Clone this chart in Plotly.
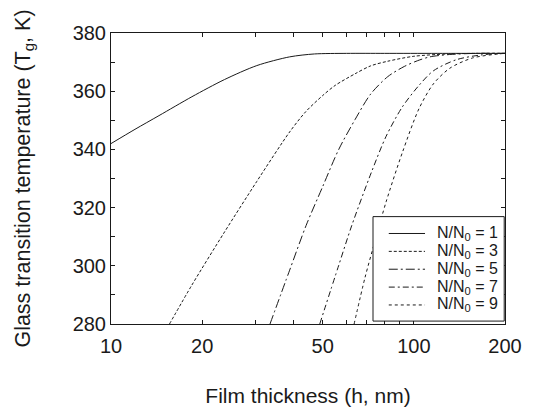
import plotly.graph_objects as go

# Film thickness (nm) and glass transition temperature (K) for each N/N0 ratio
h_n1 = [10, 12, 14.4, 18.5, 23.7, 30.3, 38.9, 47, 60, 80, 120, 200]
tg_n1 = [342, 346.9, 351.6, 358.1, 364, 368.8, 371.8, 372.8, 373, 373, 373, 373]

h_n3 = [15.6, 18.5, 23.7, 30.3, 38.9, 44, 50, 55, 64, 72, 82, 100, 130, 160, 200]
tg_n3 = [280, 293.4, 311.6, 329, 346, 353, 358.5, 362, 366, 368.7, 370.3, 372, 372.8, 373, 373]

h_n5 = [33.5, 38.9, 44.1, 49.9, 56.5, 64, 72, 82, 93, 103, 113, 131, 160, 200]
tg_n5 = [280, 298.5, 313.9, 327, 340, 350.3, 359, 365, 368.5, 370.5, 371.8, 372.6, 373, 373]

h_n7 = [48.9, 56.5, 62.4, 72.4, 81, 91.5, 104, 116, 138, 168, 200]
tg_n7 = [280, 300.2, 313.9, 332.1, 344.5, 354.5, 362, 367, 370.8, 372.5, 373]

h_n9 = [63.5, 69, 74.2, 81, 91.7, 104, 116, 131.5, 156, 190, 200]
tg_n9 = [280, 296, 308, 322, 339, 354, 362.5, 367.9, 371.4, 372.8, 373]

ratios = ["1", "3", "5", "7", "9"]
series_h = [h_n1, h_n3, h_n5, h_n7, h_n9]
series_tg = [tg_n1, tg_n3, tg_n5, tg_n7, tg_n9]
dashes = ["solid", "3px,2px", "9px,3px,2px,3px", "6px,3px,2px,3px", "3px,3px"]

x_ticks = [10, 20, 50, 100, 200]
x_minor = [30, 40, 60, 70, 80, 90]

FONT = "Liberation Sans, Arial, Helvetica, sans-serif"
INK = "#1a1a1a"

fig = go.Figure()
for r, hx, ty, d in zip(ratios, series_h, series_tg, dashes):
    fig.add_trace(go.Scatter(
        x=hx, y=ty, mode="lines", name=f"N/N<sub>0</sub> = {r}",
        line=dict(color=INK, width=1, dash=d, shape="spline", smoothing=0.8),
        showlegend=False,
    ))

# Compact boxed key in the lower-right corner of the plotting area
key_x0, key_x1, key_y0, key_y1 = 0.665, 0.998, 0.010, 0.369
row_top, row_step = 0.311, 0.0614
sample_x0, sample_x1, label_x = 0.705, 0.797, 0.822

shapes = [dict(type="rect", xref="paper", yref="paper",
               x0=key_x0, x1=key_x1, y0=key_y0, y1=key_y1,
               line=dict(color=INK, width=1), fillcolor="white", layer="above")]
annotations = []
for i, (r, d) in enumerate(zip(ratios, dashes)):
    yy = row_top - i * row_step
    shapes.append(dict(type="line", xref="paper", yref="paper",
                       x0=sample_x0, x1=sample_x1, y0=yy, y1=yy,
                       line=dict(color=INK, width=1, dash=d), layer="above"))
    annotations.append(dict(xref="paper", yref="paper", x=label_x, y=yy,
                            xanchor="left", yanchor="middle", showarrow=False,
                            text=f"N/N<sub>0</sub> = {r}",
                            font=dict(family=FONT, size=16, color=INK)))

axis_common = dict(
    showline=True, linecolor=INK, linewidth=1, mirror="ticks",
    ticks="inside", ticklen=4, tickwidth=1, tickcolor=INK,
    showgrid=False, zeroline=False,
    tickfont=dict(family=FONT, size=20, color=INK),
)

fig.update_layout(
    width=534, height=416,
    margin=dict(l=111, r=20, t=33, b=90),
    paper_bgcolor="white", plot_bgcolor="white",
    font=dict(family=FONT, color=INK),
    shapes=shapes, annotations=annotations,
    xaxis=dict(
        type="log", range=[1, 2.30103],
        tickmode="array", tickvals=x_ticks, ticktext=[str(v) for v in x_ticks],
        ticklabelstandoff=4,
        minor=dict(tickmode="array", tickvals=x_minor, ticks="inside",
                   ticklen=4, tickcolor=INK),
        title=dict(text="Film thickness (h, nm)",
                   font=dict(family=FONT, size=21, color=INK), standoff=32),
        **axis_common,
    ),
    yaxis=dict(
        range=[280, 380], tickmode="linear", tick0=280, dtick=20,
        minor=dict(dtick=10, ticks="inside", ticklen=4, tickcolor=INK),
        title=dict(text="Glass transition temperature (T<sub>g</sub>, K)",
                   font=dict(family=FONT, size=21.5, color=INK), standoff=36),
        **axis_common,
    ),
)

fig.write_html("out.html")
